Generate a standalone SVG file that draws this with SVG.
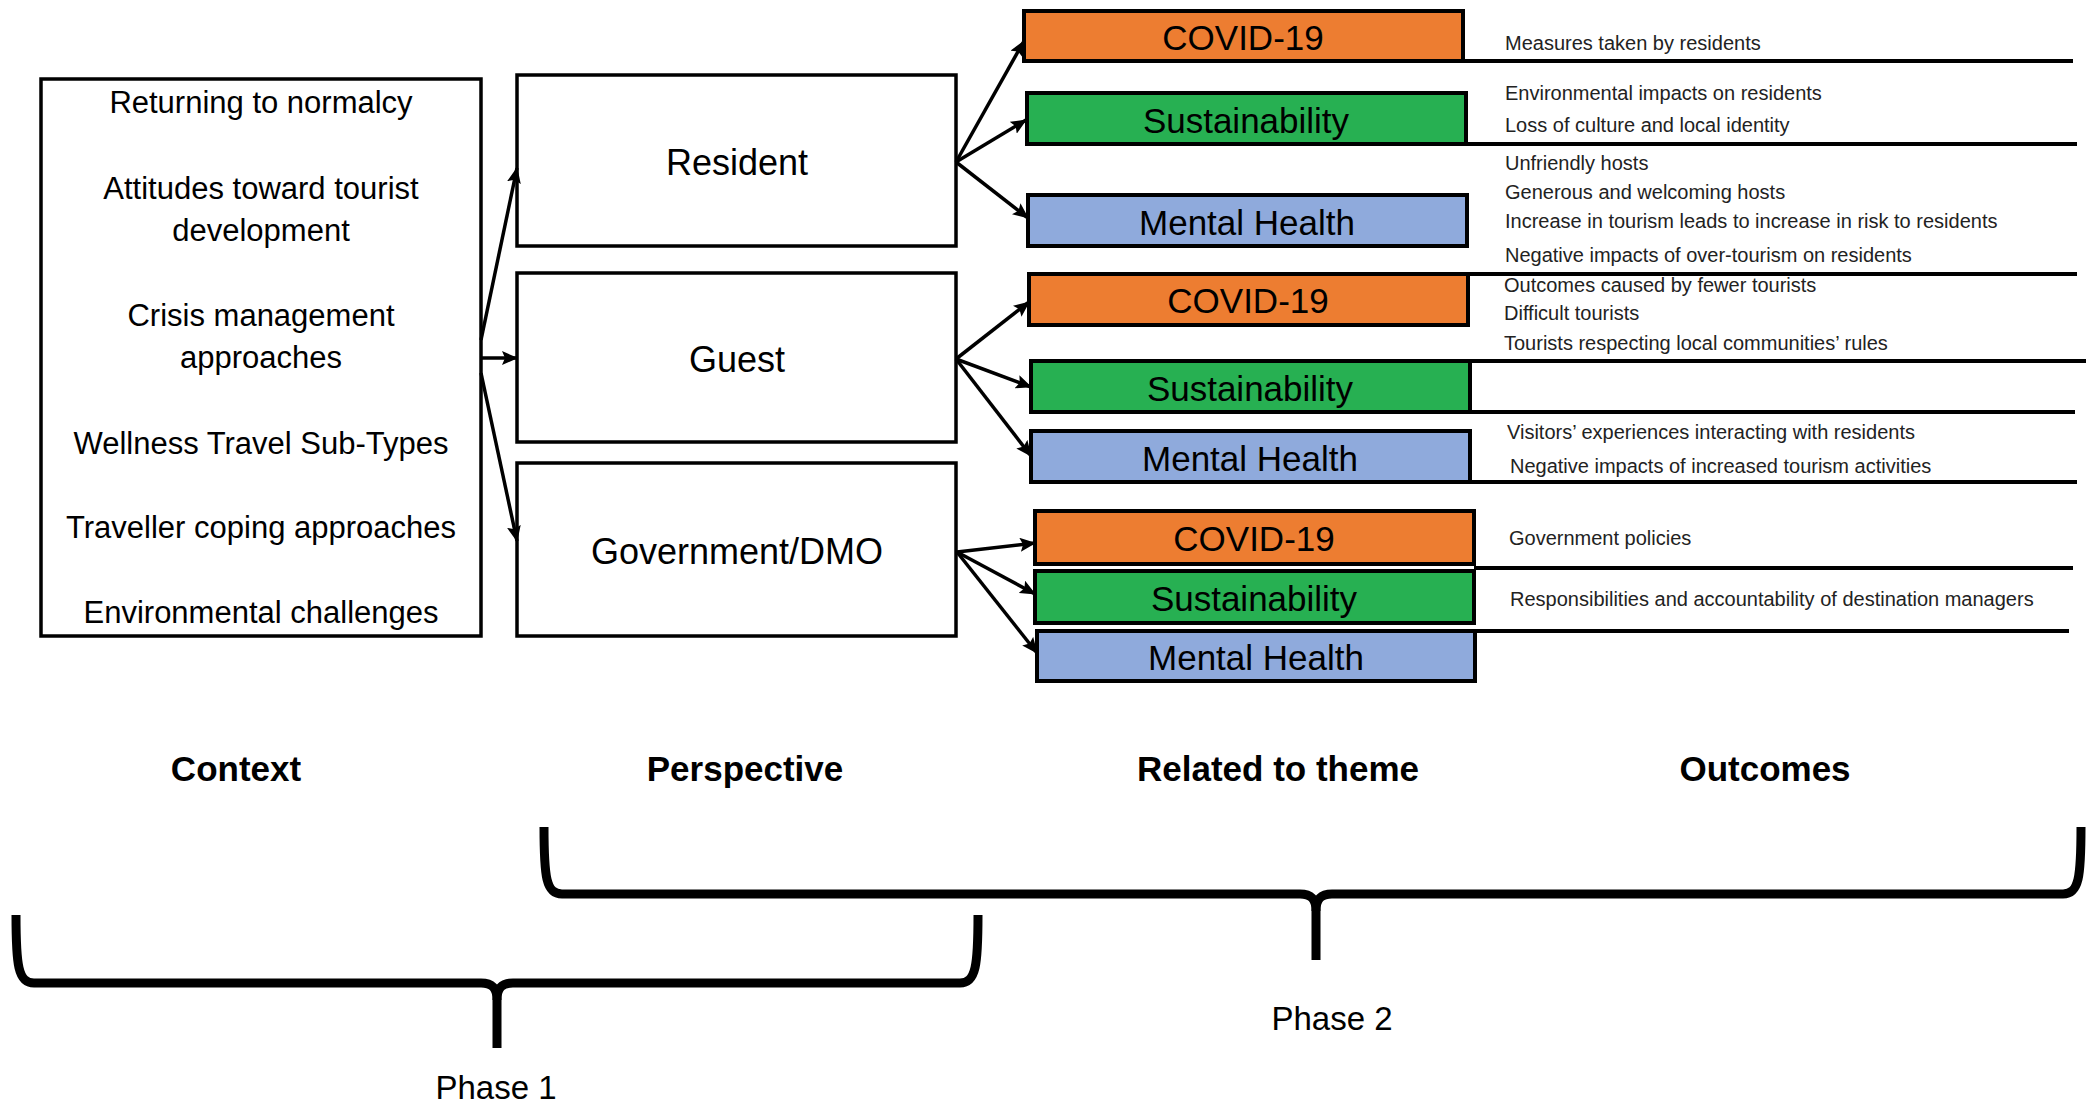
<svg xmlns="http://www.w3.org/2000/svg" width="2086" height="1104" viewBox="0 0 2086 1104">
<style>
  text { font-family: "Liberation Sans", Arial, sans-serif; fill: #000; }
  .ctx { font-size: 31px; text-anchor: middle; dominant-baseline: central; }
  .persp { font-size: 36px; text-anchor: middle; dominant-baseline: central; }
  .theme { font-size: 35px; text-anchor: middle; dominant-baseline: central; }
  .out { font-size: 20px; dominant-baseline: central; fill: #222; }
  .head { font-size: 35px; font-weight: bold; text-anchor: middle; dominant-baseline: central; }
  .phase { font-size: 33px; text-anchor: middle; dominant-baseline: central; }
  .box { fill: #fff; stroke: #000; stroke-width: 3.5; }
  .orange { fill: #ED7D31; stroke: #000; stroke-width: 4; }
  .green { fill: #27B052; stroke: #000; stroke-width: 4; }
  .blue { fill: #8FAADC; stroke: #000; stroke-width: 4; }
  .arrow { stroke: #000; stroke-width: 3.5; fill: none; marker-end: url(#ah); }
  .sep { stroke: #000; stroke-width: 4; }
  .brace { stroke: #000; stroke-width: 9; fill: none; stroke-linejoin: round; }
</style>
<defs>
  <marker id="ah" markerUnits="userSpaceOnUse" markerWidth="16" markerHeight="14" refX="15" refY="7" orient="auto">
    <path d="M0,0 L16,7 L0,14 L3,7 z" fill="#000"/>
  </marker>
</defs>
<rect width="2086" height="1104" fill="#fff"/>

<g id="context">
  <rect class="box" x="41" y="79" width="440" height="557"/>
  <text class="ctx" x="261" y="102">Returning to normalcy</text>
  <text class="ctx" x="261" y="188">Attitudes toward tourist</text>
  <text class="ctx" x="261" y="230">development</text>
  <text class="ctx" x="261" y="315">Crisis management</text>
  <text class="ctx" x="261" y="357">approaches</text>
  <text class="ctx" x="261" y="443">Wellness Travel Sub-Types</text>
  <text class="ctx" x="261" y="527">Traveller coping approaches</text>
  <text class="ctx" x="261" y="612">Environmental challenges</text>
</g>

<g id="resident">
  <rect class="box" x="517" y="75" width="439" height="171"/>
  <text class="persp" x="737" y="162">Resident</text>
</g>
<g id="guest">
  <rect class="box" x="517" y="273" width="439" height="169"/>
  <text class="persp" x="737" y="359">Guest</text>
</g>
<g id="government">
  <rect class="box" x="517" y="463" width="439" height="173"/>
  <text class="persp" x="737" y="551">Government/DMO</text>
</g>

<g id="resident-covid">
  <rect class="orange" x="1024" y="11" width="439" height="50"/>
  <text class="theme" x="1243" y="37">COVID-19</text>
</g>
<g id="resident-sustainability">
  <rect class="green" x="1027" y="93" width="439" height="51"/>
  <text class="theme" x="1246" y="120">Sustainability</text>
</g>
<g id="resident-mental">
  <rect class="blue" x="1028" y="195" width="439" height="51"/>
  <text class="theme" x="1247" y="222">Mental Health</text>
</g>
<g id="guest-covid">
  <rect class="orange" x="1029" y="274" width="439" height="51"/>
  <text class="theme" x="1248" y="300">COVID-19</text>
</g>
<g id="guest-sustainability">
  <rect class="green" x="1031" y="361" width="439" height="51"/>
  <text class="theme" x="1250" y="388">Sustainability</text>
</g>
<g id="guest-mental">
  <rect class="blue" x="1031" y="431" width="439" height="51"/>
  <text class="theme" x="1250" y="458">Mental Health</text>
</g>
<g id="gov-covid">
  <rect class="orange" x="1035" y="511" width="439" height="53"/>
  <text class="theme" x="1254" y="538">COVID-19</text>
</g>
<g id="gov-sustainability">
  <rect class="green" x="1035" y="571" width="439" height="52"/>
  <text class="theme" x="1254" y="598">Sustainability</text>
</g>
<g id="gov-mental">
  <rect class="blue" x="1037" y="631" width="438" height="50"/>
  <text class="theme" x="1256" y="657">Mental Health</text>
</g>

<g id="connectors">
  <line class="arrow" x1="481" y1="340" x2="517" y2="168"/>
  <line class="arrow" x1="481" y1="358" x2="517" y2="358"/>
  <line class="arrow" x1="481" y1="373" x2="517" y2="541"/>
  <line class="arrow" x1="956" y1="162" x2="1024" y2="41"/>
  <line class="arrow" x1="956" y1="162" x2="1026" y2="120"/>
  <line class="arrow" x1="956" y1="162" x2="1028" y2="218"/>
  <line class="arrow" x1="956" y1="359" x2="1029" y2="302"/>
  <line class="arrow" x1="956" y1="359" x2="1031" y2="387"/>
  <line class="arrow" x1="956" y1="359" x2="1031" y2="456"/>
  <line class="arrow" x1="957" y1="552" x2="1035" y2="543"/>
  <line class="arrow" x1="957" y1="552" x2="1035" y2="594"/>
  <line class="arrow" x1="957" y1="552" x2="1037" y2="653"/>
</g>

<g id="outcome-lines">
  <line class="sep" x1="1463" y1="61" x2="2073" y2="61"/>
  <line class="sep" x1="1466" y1="144" x2="2077" y2="144"/>
  <line class="sep" x1="1468" y1="274" x2="2077" y2="274"/>
  <line class="sep" x1="1470" y1="361" x2="2086" y2="361"/>
  <line class="sep" x1="1470" y1="412" x2="2075" y2="412"/>
  <line class="sep" x1="1470" y1="482" x2="2077" y2="482"/>
  <line class="sep" x1="1474" y1="568" x2="2073" y2="568"/>
  <line class="sep" x1="1475" y1="631" x2="2069" y2="631"/>
</g>

<g id="outcomes">
  <text class="out" x="1505" y="43">Measures taken by residents</text>
  <text class="out" x="1505" y="93">Environmental impacts on residents</text>
  <text class="out" x="1505" y="125">Loss of culture and local identity</text>
  <text class="out" x="1505" y="163">Unfriendly hosts</text>
  <text class="out" x="1505" y="192">Generous and welcoming hosts</text>
  <text class="out" x="1505" y="221">Increase in tourism leads to increase in risk to residents</text>
  <text class="out" x="1505" y="255">Negative impacts of over-tourism on residents</text>
  <text class="out" x="1504" y="285">Outcomes caused by fewer tourists</text>
  <text class="out" x="1504" y="313">Difficult tourists</text>
  <text class="out" x="1504" y="343">Tourists respecting local communities’ rules</text>
  <text class="out" x="1507" y="432">Visitors’ experiences interacting with residents</text>
  <text class="out" x="1510" y="466">Negative impacts of increased tourism activities</text>
  <text class="out" x="1509" y="538">Government policies</text>
  <text class="out" x="1510" y="599">Responsibilities and accountability of destination managers</text>
</g>

<g id="headers">
  <text class="head" x="236" y="768">Context</text>
  <text class="head" x="745" y="768">Perspective</text>
  <text class="head" x="1278" y="768">Related to theme</text>
  <text class="head" x="1765" y="768">Outcomes</text>
</g>

<g id="phase1">
  <path class="brace" d="M16 915 C16 965 18 983 34 983 L481 983 C492 983 497 988 497 1000 L497 1048"/>
  <path class="brace" d="M978 915 C978 965 976 983 960 983 L513 983 C502 983 497 988 497 1000"/>
  <text class="phase" x="496" y="1087">Phase 1</text>
</g>
<g id="phase2">
  <path class="brace" d="M544 827 C544 877 546 894 562 894 L1300 894 C1311 894 1316 899 1316 911 L1316 960"/>
  <path class="brace" d="M2081 827 C2081 877 2079 894 2063 894 L1332 894 C1321 894 1316 899 1316 911"/>
  <text class="phase" x="1332" y="1018">Phase 2</text>
</g>
</svg>
